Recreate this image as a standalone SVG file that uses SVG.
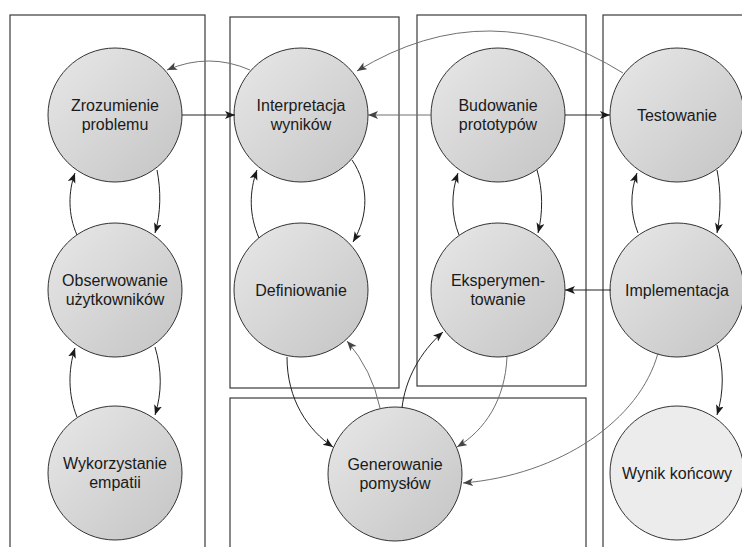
<svg xmlns="http://www.w3.org/2000/svg" width="742" height="547" viewBox="0 0 742 547">
  <style>
    .lane { fill: none; stroke: #3a3a3a; stroke-width: 1.2; }
    .node circle { stroke: #333; stroke-width: 1; fill: url(#nodeFill); }
    #n-wynik circle { fill: #ececec; }
    .node text { font-family: "Liberation Sans", Arial, sans-serif; font-size: 16px; fill: #1a1a1a; text-anchor: middle; }
    .edge { fill: none; stroke-width: 1; }
    .dark { stroke: #222; marker-end: url(#arrDark); }
    .gray { stroke: #707070; marker-end: url(#arrGray); }
  </style>
  <defs>
    <linearGradient id="nodeFill" x1="0" y1="0" x2="1" y2="1">
      <stop offset="0" stop-color="#e8e8e8"/>
      <stop offset="1" stop-color="#c4c4c4"/>
    </linearGradient>
    <marker id="arrDark" markerUnits="userSpaceOnUse" markerWidth="11" markerHeight="9" refX="10" refY="4" orient="auto">
      <path d="M0,0 L10,4 L0,8 L2.5,4 z" fill="#1a1a1a"/>
    </marker>
    <marker id="arrGray" markerUnits="userSpaceOnUse" markerWidth="11" markerHeight="9" refX="10" refY="4" orient="auto">
      <path d="M0,0 L10,4 L0,8 L2.5,4 z" fill="#444"/>
    </marker>
  </defs>

  <!-- swimlane frames -->
  <g id="lanes">
    <rect class="lane" x="10" y="15" width="195" height="545"/>
    <rect class="lane" x="230" y="17" width="169" height="371"/>
    <rect class="lane" x="417" y="15" width="169" height="371"/>
    <rect class="lane" x="230" y="398" width="356" height="160"/>
    <rect class="lane" x="603" y="15" width="150" height="545"/>
  </g>

  <!-- nodes -->
  <g id="n-zrozumienie" class="node">
    <circle cx="115" cy="115" r="67"/>
    <text x="115" y="111">Zrozumienie</text>
    <text x="115" y="130">problemu</text>
  </g>
  <g id="n-obserwowanie" class="node">
    <circle cx="115" cy="290" r="67"/>
    <text x="115" y="286">Obserwowanie</text>
    <text x="115" y="305">użytkowników</text>
  </g>
  <g id="n-empatia" class="node">
    <circle cx="115" cy="473" r="67"/>
    <text x="115" y="469">Wykorzystanie</text>
    <text x="115" y="488">empatii</text>
  </g>
  <g id="n-interpretacja" class="node">
    <circle cx="301" cy="115" r="67"/>
    <text x="301" y="111">Interpretacja</text>
    <text x="301" y="130">wyników</text>
  </g>
  <g id="n-definiowanie" class="node">
    <circle cx="301" cy="290" r="67"/>
    <text x="301" y="296">Definiowanie</text>
  </g>
  <g id="n-budowanie" class="node">
    <circle cx="498" cy="115" r="67"/>
    <text x="498" y="111">Budowanie</text>
    <text x="498" y="130">prototypów</text>
  </g>
  <g id="n-eksperymentowanie" class="node">
    <circle cx="498" cy="290" r="67"/>
    <text x="498" y="286">Eksperymen-</text>
    <text x="498" y="305">towanie</text>
  </g>
  <g id="n-generowanie" class="node">
    <circle cx="395" cy="474" r="67"/>
    <text x="395" y="470">Generowanie</text>
    <text x="395" y="489">pomysłów</text>
  </g>
  <g id="n-testowanie" class="node">
    <circle cx="677" cy="115" r="67"/>
    <text x="677" y="121">Testowanie</text>
  </g>
  <g id="n-implementacja" class="node">
    <circle cx="677" cy="290" r="67"/>
    <text x="677" y="296">Implementacja</text>
  </g>
  <g id="n-wynik" class="node">
    <circle cx="677" cy="473" r="67"/>
    <text x="677" y="479">Wynik końcowy</text>
  </g>

  <!-- connectors -->
  <g id="connectors">
    <!-- top row -->
    <path class="edge dark" d="M182,115 L235,115"/>
    <path class="edge gray" d="M250,70 Q209,52 167,70"/>
    <path class="edge gray" d="M432,115 L368,115"/>
    <path class="edge gray" d="M623,73 Q490,-10 357,71"/>
    <path class="edge dark" d="M565,115 L610,115"/>

    <!-- left column loops -->
    <path class="edge dark" d="M77,235 C68,215 68,192 75,173"/>
    <path class="edge dark" d="M157,170 C161,190 161,213 155,233"/>
    <path class="edge dark" d="M77,417 C68,395 68,370 75,348"/>
    <path class="edge dark" d="M155,347 C162,370 162,393 155,415"/>

    <!-- interpretation / definition loop -->
    <path class="edge dark" d="M259,238 C249,215 249,192 257,170"/>
    <path class="edge dark" d="M352,160 C369,185 369,215 353,242"/>

    <!-- prototyping / experimenting loop -->
    <path class="edge dark" d="M459,235 C451,215 451,193 458,173"/>
    <path class="edge dark" d="M537,170 C543,190 543,213 538,233"/>

    <!-- testing / implementation loop -->
    <path class="edge dark" d="M638,233 C630,213 630,193 637,173"/>
    <path class="edge dark" d="M717,170 C721,190 721,213 717,233"/>

    <path class="edge dark" d="M611,290 L565,290"/>
    <path class="edge dark" d="M717,345 C724,368 724,392 717,415"/>
    <path class="edge gray" d="M658,353 C640,420 560,475 463,483"/>

    <!-- links to idea generation -->
    <path class="edge dark" d="M287,357 C287,400 308,430 333,447"/>
    <path class="edge gray" d="M380,408 Q372,370 347,341"/>
    <path class="edge dark" d="M402,408 C405,380 420,352 443,332"/>
    <path class="edge gray" d="M507,357 C505,400 485,430 457,447"/>
  </g>
</svg>
